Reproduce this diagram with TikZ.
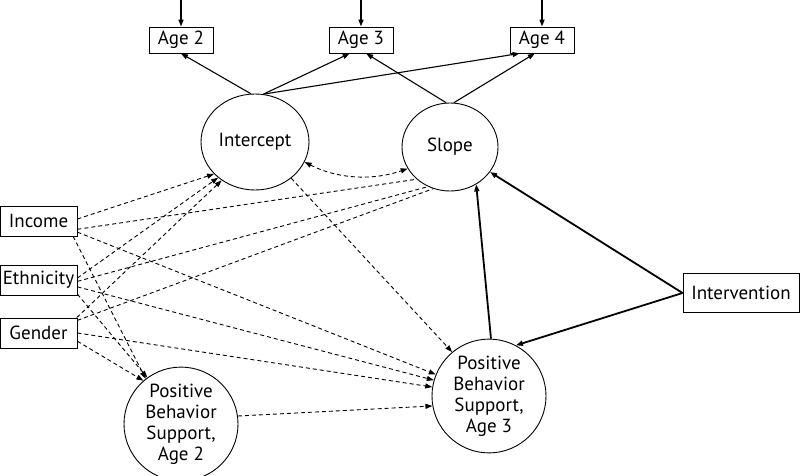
\documentclass[tikz,border=0pt]{standalone}
\usepackage{fontspec}
\setmainfont{PT Sans}
\usetikzlibrary{positioning,shapes.geometric,arrows.meta}
\tikzset{
      sem/.style={
        x=1pt,y=-1pt,
        every node/.style={font=\fontsize{19}{21}\selectfont,align=center,inner sep=0pt},
        obs/.style={draw,rectangle,line width=0.9pt},
        lat/.style={draw,ellipse,line width=0.9pt},
        reg/.style={-{Triangle[length=7pt,width=5pt]},line width=1.1pt},
        bold/.style={reg,line width=1.8pt},
        corr/.style={dash pattern=on 4pt off 3pt,line width=0.9pt},
        cov/.style={corr,-{Triangle[length=7pt,width=5pt]}}
      }
    }
\begin{document}
\begin{tikzpicture}[sem]
\useasboundingbox (0,0) rectangle (800,476);
\foreach \t[count=\i from 2] in {181,361,542}{
  \node[obs,minimum width=64pt,minimum height=26pt] at(\t,40)(age\i){Age \i};
  \coordinate (top\i) at (\t,0);
  \draw[reg,line width=1.5pt] (top\i) -- (age\i);
}
\node[lat,minimum width=108pt,minimum height=96pt] at(255,142)(icpt){Intercept};
\node[lat,minimum width=96pt,minimum height=88pt] at(450,147)(slope){Slope};
\node[lat,minimum width=114pt,minimum height=104pt] at(181,424)(pbs2){Positive\\Behavior\\Support,\\Age 2};
\node[lat,minimum width=114pt,minimum height=103pt] at(489,396)(pbs3){Positive\\Behavior\\Support,\\Age 3};
\node[obs,minimum width=77pt,minimum height=30pt] at(38.5,221)(inc){Income};
\node[obs,minimum width=77pt,minimum height=30pt] at(38.5,280)(eth){Ethnicity};
\node[obs,minimum width=77pt,minimum height=30pt] at(38.5,333)(gen){Gender};
\node[obs,minimum width=116pt,minimum height=39pt] at(741,293)(intv){Intervention};

% growth factors to the ages
\draw[reg] (icpt.95) -- (age2.south);
\draw[reg] (icpt.80) -- (age3.230);
\draw[reg] (icpt.80) -- (age4.211);
\draw[reg] (slope.95) -- (age3.-69);
\draw[reg] (slope.85) -- (age4.242);
\draw[corr,{Triangle[length=7pt,width=5pt]}-{Triangle[length=7pt,width=5pt]}]
  (icpt.-22) .. controls (340,180) and (375,180) .. (slope.207);

% covariates
\draw[cov] (inc.3) -- (icpt.218);
\draw[corr] (inc.-12) -- (slope.224);
\draw[cov] (inc.-16) -- (pbs3.158);
\draw[cov] (inc.-24) -- (pbs2.128);
\draw[cov] (eth.3) -- (icpt.224);
\draw[corr] (eth.-2) -- (slope.241);
\draw[cov] (eth.-10) -- (pbs3.164);
\draw[cov] (eth.-20) -- (pbs2.126);
\draw[cov] (gen.22) -- (icpt.229);
\draw[corr] (gen.18) -- (slope.248);
\draw[cov] (gen.0) -- (pbs3.171);
\draw[cov] (gen.-12) -- (pbs2.131);

\draw[cov] (icpt.-45) -- (pbs3.130);
\draw[cov] (pbs2.8) -- (pbs3.190);

% intervention
\draw[bold] (intv.west) -- (slope.-32);
\draw[bold] (intv.west) -- (pbs3.62);
\draw[bold] (pbs3.88) -- (slope.-55);
\end{tikzpicture}
\end{document}
